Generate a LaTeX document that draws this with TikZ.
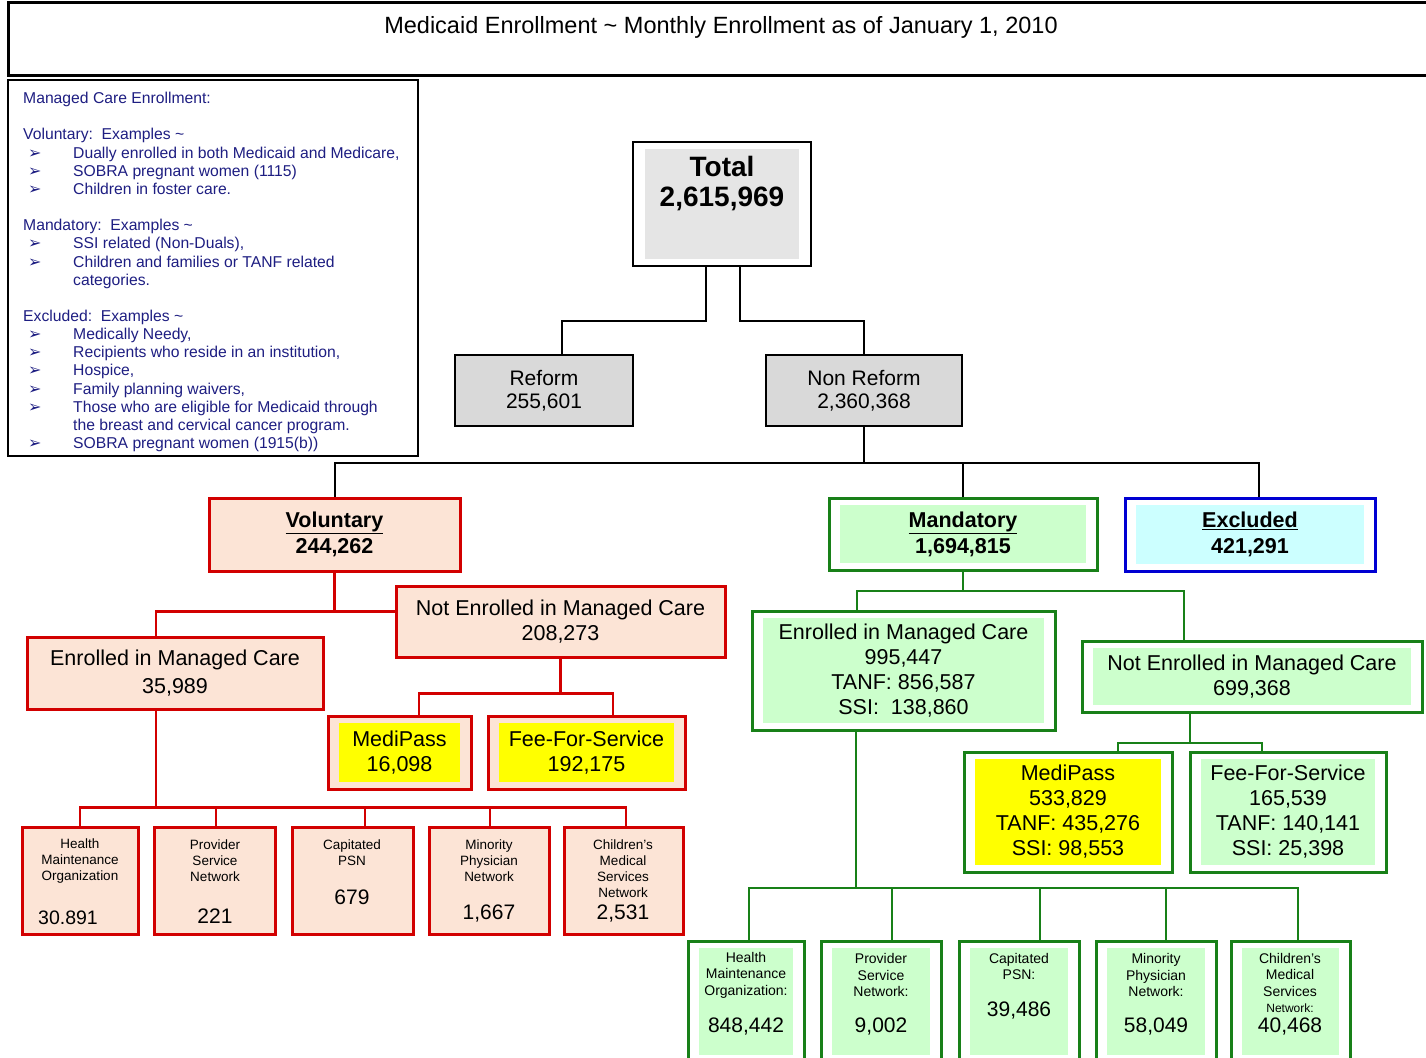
\documentclass[tikz,border=0pt]{standalone}
\usepackage{fontspec}
\setmainfont{Liberation Sans}
\newfontfamily\symfont{DejaVu Sans}
\usetikzlibrary{calc}
\definecolor{rc}{RGB}{210,0,0}
\definecolor{peach}{RGB}{252,228,214}
\definecolor{gc}{RGB}{24,128,24}
\definecolor{lgreen}{RGB}{204,255,204}
\definecolor{bc}{RGB}{0,0,210}
\definecolor{lcyan}{RGB}{204,255,255}
\definecolor{grayA}{RGB}{217,217,217}
\definecolor{grayB}{RGB}{229,229,229}
\definecolor{navy}{RGB}{30,30,130}
\definecolor{ylw}{RGB}{255,255,0}
\newcommand{\myfs}[2]{\fontsize{#1pt}{#2pt}\selectfont}
\newcommand{\lbul}{\makebox[50pt][l]{\hspace{5pt}{\symfont\fontsize{16pt}{16pt}\selectfont ➢}}}
\newcommand{\lind}{\hspace*{50pt}}
\tikzset{
  sz/.style 2 args={minimum width=#1pt, minimum height=#2pt},
  inset/.style={path picture={\fill[#1] ([xshift=11pt,yshift=-7pt]path picture bounding box.north west) rectangle ([xshift=-11pt,yshift=7pt]path picture bounding box.south east);}},
  basebox/.style={rectangle, inner sep=0pt, align=center},
  blkbox/.style={basebox, draw=black, line width=2pt},
  redbox/.style={basebox, draw=rc, line width=3pt, fill=peach},
  grnbox/.style={basebox, draw=gc, line width=3pt, fill=white, inset=lgreen},
  mid/.style={font=\myfs{21.5}{25}},
  midb/.style={font=\bfseries\myfs{21.5}{26}},
  small/.style={align=center, inner sep=0pt, font=\myfs{13.5}{16}},
  smallg/.style={align=center, inner sep=0pt, font=\myfs{14}{16.5}},
  num/.style={inner sep=0pt, font=\myfs{21}{21}},
  conn/.style={draw=black, line width=2pt},
  rconn/.style={draw=rc, line width=2.5pt},
  gconn/.style={draw=gc, line width=2pt},
}
\begin{document}
\begin{tikzpicture}[x=1pt,y=-1pt]
\useasboundingbox (0,0) rectangle (1426,1057);
\fill[white] (0,0) rectangle (1426,1057);
% title
\node[basebox, draw=black, line width=3pt, sz={1430}{72}] (title) at (723,39) {};
\node[inner sep=0pt, font=\myfs{23.5}{26}] (titletext) at (721,27) {Medicaid Enrollment \textasciitilde{} Monthly Enrollment as of January 1, 2010};
% legend
\node[basebox, draw=black, line width=2.5pt, sz={410}{376}] (legend) at (213,268) {};
\begin{scope}
\clip (10,82) rectangle (416,454);
\node[anchor=north west, align=left, inner sep=0pt, text=navy, font=\myfs{15.7}{18.16}] (legtext) at (23,92) {Managed Care Enrollment:\\[18.16pt]
Voluntary:\ \ Examples \textasciitilde\\
\lbul Dually enrolled in both Medicaid and Medicare,\\
\lbul SOBRA pregnant women (1115)\\
\lbul Children in foster care.\\[18.16pt]
Mandatory:\ \ Examples \textasciitilde\\
\lbul SSI related (Non-Duals),\\
\lbul Children and families or TANF related\\
\lind categories.\\[18.16pt]
Excluded:\ \ Examples \textasciitilde\\
\lbul Medically Needy,\\
\lbul Recipients who reside in an institution,\\
\lbul Hospice,\\
\lbul Family planning waivers,\\
\lbul Those who are eligible for Medicaid through\\
\lind the breast and cervical cancer program.\\
\lbul SOBRA pregnant women (1915(b))};
\end{scope}
% total
\node[blkbox, fill=white, sz={178}{124}, path picture={\fill[grayB] ([xshift=12pt,yshift=-7pt]path picture bounding box.north west) rectangle ([xshift=-12pt,yshift=7pt]path picture bounding box.south east);}] (total) at (722,204) {};
\node[inner sep=0pt, font=\bfseries\myfs{28}{30}] (totalt) at (722,166) {Total};
\node[inner sep=0pt, font=\bfseries\myfs{28}{30}] (totaln) at (722,199) {2,615,969};
% reform
\node[blkbox, fill=grayA, sz={178}{71}, font=\myfs{21}{23}] (reform) at (544,390.5) {Reform\\255,601};
\node[blkbox, fill=grayA, sz={196}{71}, font=\myfs{21}{23}] (nonreform) at (864,390.5) {Non Reform\\2,360,368};
% level 2
\node[redbox, sz={251}{73}, midb] (vol) at (334.5,534.5) {\underline{Voluntary}\\244,262};
\node[basebox, draw=gc, line width=3pt, fill=white, inset=lgreen, sz={268}{72}, midb] (mand) at (963,534) {\underline{Mandatory}\\1,694,815};
\node[basebox, draw=bc, line width=3pt, fill=white, inset=lcyan, sz={250}{73}, midb] (excl) at (1250,534.5) {\underline{Excluded}\\421,291};
% voluntary branch
\node[redbox, sz={296}{72}, font=\myfs{21.5}{28}] (envol) at (175,673) {Enrolled in Managed Care\\35,989};
\node[redbox, sz={329}{71}, mid] (notvol) at (560.5,621.5) {Not Enrolled in Managed Care\\208,273};
\node[redbox, inset=ylw, sz={143}{73}, mid] (mpvol) at (399.5,752.5) {MediPass\\16,098};
\node[redbox, inset=ylw, sz={197}{73}, mid] (ffsvol) at (586.5,752.5) {Fee-For-Service\\192,175};
\node[redbox, sz={116}{107}] (hmo1) at (80,880.5) {};
\node[redbox, sz={121}{107}] (psn1) at (214.5,880.5) {};
\node[redbox, sz={121}{107}] (cap1) at (352.5,880.5) {};
\node[redbox, sz={120}{107}] (min1) at (489,880.5) {};
\node[redbox, sz={119}{107}] (cms1) at (623.5,880.5) {};
\node[small] (hmo1t) at (80,861) {Health\\Maintenance\\Organization};
\node[num, font=\myfs{19.5}{20}] (hmo1n) at (68,918) {30.891};
\node[small] (psn1t) at (215,861) {Provider\\Service\\Network};
\node[num] (psn1n) at (215,916) {221};
\node[small] (cap1t) at (352,853) {Capitated\\PSN};
\node[num] (cap1n) at (352,897) {679};
\node[small] (min1t) at (489,861) {Minority\\Physician\\Network};
\node[num] (min1n) at (489,913) {1,667};
\node[small] (cms1t) at (623,869) {Children’s\\Medical\\Services\\Network};
\node[num] (cms1n) at (623,913) {2,531};
% mandatory branch
\node[grnbox, sz={303}{119}, mid] (enmand) at (903.5,670.5) {Enrolled in Managed Care\\995,447\\TANF: 856,587\\SSI:\ \ 138,860};
\node[grnbox, sz={340}{71}, mid] (notmand) at (1252,676.5) {Not Enrolled in Managed Care\\699,368};
\node[basebox, draw=gc, line width=3pt, fill=white, inset=ylw, sz={208}{120}, mid] (mpmand) at (1068,812) {MediPass\\533,829\\TANF: 435,276\\SSI: 98,553};
\node[grnbox, sz={196}{120}, mid] (ffsmand) at (1288,812) {Fee-For-Service\\165,539\\TANF: 140,141\\SSI: 25,398};
\node[grnbox, sz={116}{121}] (hmo2) at (746,1001.5) {};
\node[grnbox, sz={120}{121}] (psn2) at (881,1001.5) {};
\node[grnbox, sz={120}{121}] (cap2) at (1019,1001.5) {};
\node[grnbox, sz={120}{121}] (min2) at (1156,1001.5) {};
\node[grnbox, sz={119}{121}] (cms2) at (1290.5,1001.5) {};
\node[smallg] (hmo2t) at (746,975) {Health\\Maintenance\\Organization:};
\node[num] (hmo2n) at (746,1026) {848,442};
\node[smallg] (psn2t) at (881,975) {Provider\\Service\\Network:};
\node[num] (psn2n) at (881,1026) {9,002};
\node[smallg] (cap2t) at (1019,966.5) {Capitated\\PSN:};
\node[num] (cap2n) at (1019,1010) {39,486};
\node[smallg] (min2t) at (1156,975) {Minority\\Physician\\Network:};
\node[num] (min2n) at (1156,1026) {58,049};
\node[smallg] (cms2t) at (1290,983) {Children’s\\Medical\\Services\\{\myfs{12}{14}Network:}};
\node[num] (cms2n) at (1290,1026) {40,468};
% connectors: top
\draw[conn] ([xshift=-16pt]total.south) -- ++(0,54) -| ([xshift=18pt]reform.north);
\draw[conn] ([xshift=18pt]total.south) -- ++(0,54) -| (nonreform.north);
\draw[conn] (nonreform.south) -- ++(0,36) coordinate (nrbus);
\draw[conn] (vol.north) |- (nrbus) -| ([xshift=9pt]excl.north);
\draw[conn] (mand.north) -- (mand.north |- nrbus);
% voluntary
\draw[rconn] (vol.south) -- ++(0,39) coordinate (vbus);
\draw[rconn] ([xshift=-19pt]envol.north) |- (vbus) -- (vbus -| notvol.west);
\draw[rconn] (notvol.south) -- ++(0,35) coordinate (nvbus);
\draw[rconn] ([xshift=19.5pt]mpvol.north) |- (nvbus) -| ([xshift=26.5pt]ffsvol.north);
\draw[rconn] ([xshift=-19pt]envol.south) -- ++(0,97) coordinate (evbus);
\draw[rconn] (hmo1.north) |- (evbus) -| ([xshift=2.5pt]cms1.north);
\draw[rconn] ([xshift=1.5pt]psn1.north) -- ([xshift=1.5pt]psn1.north |- evbus);
\draw[rconn] ([xshift=12.5pt]cap1.north) -- ([xshift=12.5pt]cap1.north |- evbus);
\draw[rconn] ([xshift=1pt]min1.north) -- ([xshift=1pt]min1.north |- evbus);
% mandatory
\draw[gconn] (mand.south) -- ++(0,19) coordinate (mbus);
\draw[gconn] ([xshift=-46.5pt]enmand.north) |- (mbus) -| ([xshift=-68pt]notmand.north);
\draw[gconn] ([xshift=-62pt]notmand.south) -- ++(0,29) coordinate (nmbus);
\draw[gconn] ([xshift=50pt]mpmand.north) |- (nmbus) -| ([xshift=-26pt]ffsmand.north);
\draw[gconn] ([xshift=-47.5pt]enmand.south) -- ++(0,156) coordinate (embus);
\draw[gconn] ([xshift=3pt]hmo2.north) |- (embus) -| ([xshift=7.5pt]cms2.north);
\draw[gconn] ([xshift=11pt]psn2.north) -- ([xshift=11pt]psn2.north |- embus);
\draw[gconn] ([xshift=21pt]cap2.north) -- ([xshift=21pt]cap2.north |- embus);
\draw[gconn] ([xshift=10pt]min2.north) -- ([xshift=10pt]min2.north |- embus);
\end{tikzpicture}
\end{document}
